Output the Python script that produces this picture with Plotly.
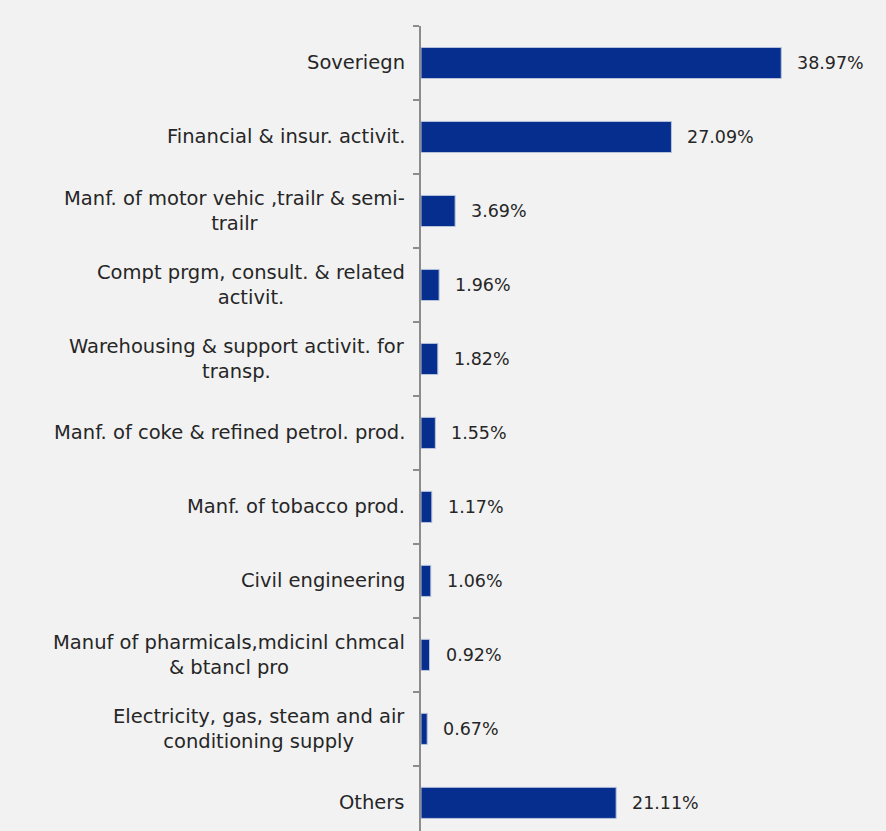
import plotly.graph_objects as go

# Sector exposure shares (%)
categories = [
    "Soveriegn",
    "Financial & insur. activit.",
    "Manf. of motor vehic ,trailr & semi-<br>trailr",
    "Compt prgm, consult. & related<br>activit.",
    "Warehousing & support activit. for<br>transp.",
    "Manf. of coke & refined petrol. prod.",
    "Manf. of tobacco prod.",
    "Civil engineering",
    "Manuf of pharmicals,mdicinl chmcal<br>& btancl pro",
    "Electricity, gas, steam and air<br>conditioning supply",
    "Others",
]
values = [38.97, 27.09, 3.69, 1.96, 1.82, 1.55, 1.17, 1.06, 0.92, 0.67, 21.11]
value_labels = ["38.97%", "27.09%", "3.69%", "1.96%", "1.82%", "1.55%",
                "1.17%", "1.06%", "0.92%", "0.67%", "21.11%"]

FONT = "DejaVu Sans"
TEXT_COLOR = "#262626"
BAR_COLOR = "#062e8f"
idx = list(range(len(categories)))

fig = go.Figure(
    go.Bar(
        x=values,
        y=idx,
        orientation="h",
        width=0.42,
        marker=dict(color=BAR_COLOR, line=dict(color="#b8c2dc", width=1)),
        hoverinfo="skip",
    )
)

annotations = []
for i, (cat, v, lab) in enumerate(zip(categories, values, value_labels)):
    annotations.append(dict(
        x=0, y=i, xref="paper", yref="y", text=cat, showarrow=False,
        xanchor="right", yanchor="middle", align="center", xshift=-14,
        font=dict(family=FONT, size=19.5, color=TEXT_COLOR),
    ))
    annotations.append(dict(
        x=v, y=i, xref="x", yref="y", text=lab, showarrow=False,
        xanchor="left", yanchor="middle", xshift=14,
        font=dict(family=FONT, size=17.5, color=TEXT_COLOR),
    ))

fig.update_layout(
    width=886, height=831,
    margin=dict(l=421, r=49, t=26, b=0),
    paper_bgcolor="#f2f2f2", plot_bgcolor="#f2f2f2",
    showlegend=False,
    bargap=0.58,
    annotations=annotations,
    xaxis=dict(range=[0, 45], visible=False, fixedrange=True),
    yaxis=dict(
        range=[10.38, -0.5], tickmode="array", tickvals=[i - 0.5 for i in idx] + [10.5],
        ticktext=[""] * 12, showgrid=False, zeroline=False,
        showline=True, linecolor="#8c8c8c", linewidth=2,
        ticks="outside", ticklen=6, tickcolor="#8c8c8c", tickwidth=2,
    ),
)

fig.write_html("out.html")
